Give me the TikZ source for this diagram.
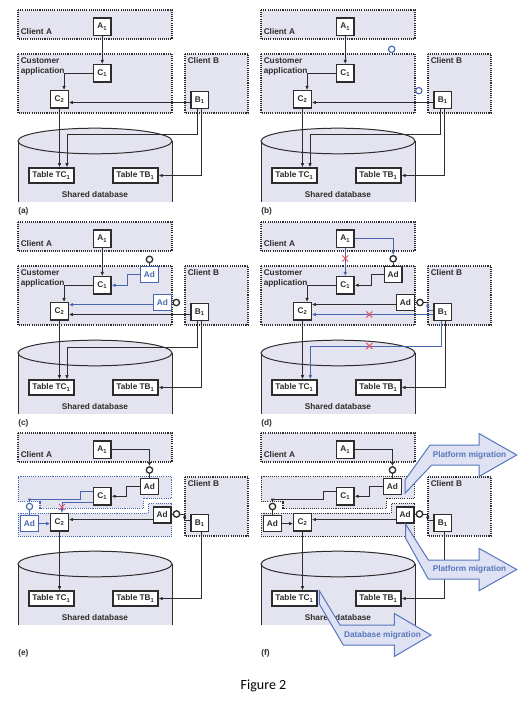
\documentclass[tikz,border=0pt]{standalone}
\usepackage{fontspec}
\setmainfont{Liberation Sans}
\newfontfamily\captionfont{Carlito}
\usetikzlibrary{arrows.meta,shapes.misc}

\definecolor{lav}{RGB}{228,228,240}
\definecolor{ink}{RGB}{45,45,45}
\definecolor{adblue}{RGB}{72,102,178}
\definecolor{xred}{RGB}{226,84,108}
\definecolor{migline}{RGB}{88,118,190}
\definecolor{migfill}{RGB}{222,226,242}

\newcommand\smallbf{\bfseries\fontsize{6.2}{7.9}\selectfont}

\tikzset{
  zone/.style={fill=lav, draw=ink, line width=0.8pt, dash pattern=on 0.8pt off 0.8pt},
  bzone/.style={zone, draw=adblue},
  box/.style={draw=ink, fill=white, line width=1pt, inner sep=0pt,
              minimum width=13.1pt, minimum height=12.9pt, font=\smallbf, text=ink},
  tbox/.style={box, minimum width=33.75pt, minimum height=11.4pt},
  adbox/.style={box, minimum height=12pt},
  bluebox/.style={draw=adblue, text=adblue},
  wire/.style={draw=ink, line width=0.75pt},
  bwire/.style={wire, draw=adblue},
  conn/.style={wire, -{Latex[length=3pt,width=2.7pt]}},
  bconn/.style={conn, draw=adblue},
  lolly/.style={circle, draw=ink, fill=white, line width=1pt, inner sep=0pt, minimum size=4.8pt},
  blolly/.style={lolly, draw=adblue, line width=0.85pt},
  xmark/.style={cross out, draw=xred, line width=0.75pt, inner sep=0pt, minimum size=3.8pt},
  lbl/.style={font=\smallbf, text=ink, inner sep=0pt},
  mig/.style={draw=migline, fill=migfill, line width=0.75pt, line join=miter},
  migtext/.style={font=\smallbf, text=migline, inner sep=0pt},
}

% client zones and the shared database cylinder
\newcommand\zonesAB{%
  \draw[zone] (18,10) rectangle (172,39);
  \node[lbl, anchor=west] (la) at (20.5,32) {Client A};
  \draw[zone] (185,54) rectangle (248,113);
  \node[lbl, anchor=west] (lb) at (187.5,60.5) {Client B};
  \fill[lav] (18,141) rectangle (172,202);
  \draw[wire] (18,141) -- (18,202) (172,141) -- (172,202);
  \draw[wire, fill=lav] (95,141) ellipse [x radius=57.75pt, y radius=9.6pt];
  \node[lbl] (ldb) at (95,195) {Shared database};
}
% the undivided customer application zone
\newcommand\custapp{%
  \draw[zone] (18,54) rectangle (172,113);
  \node[lbl, anchor=north west, align=left] (lc) at (20.5,57.3) {Customer\\application};
}
% components and tables
\newcommand\basenodes{%
  \node[box] (A1) at (102.25,26.75) {A\textsubscript{1}};
  \node[box] (C1) at (102.25,73.25) {C\textsubscript{1}};
  \node[box] (C2) at (59.5,99.25) {C\textsubscript{2}};
  \node[box] (B1) at (199.75,100) {B\textsubscript{1}};
  \node[tbox] (TC1) at (51.5,175.5) {Table TC\textsubscript{1}};
  \node[tbox] (TB1) at (135.5,175.5) {Table TB\textsubscript{1}};
}
% calls and table accesses of the original system
\newcommand\routeslower{%
  \draw[conn] (C2.south) -- (C2.south |- TC1.north);
  \coordinate (k1) at (197,135); \coordinate (k2) at (67,135);
  \draw[conn] (B1.south -| k1) -- (k1) -- (k2) -- (k2 |- TC1.north);
  \coordinate (k3) at (201.5,175.5);
  \draw[conn] (B1.south -| k3) -- (k3) -- (TB1.east);
}
\newcommand\routesbase{%
  \draw[conn] (A1) -- (C1);
  \draw[conn] (C1.west) -| ([xshift=3.4pt]C2.north);
  \coordinate (yb) at (0,102.5);
  \draw[conn] (B1.west |- yb) -- (C2.east |- yb);
  \routeslower
}
\newcommand\panellabel[2]{\node[lbl, anchor=west] (lp) at (18,#2) {(#1)};}

\begin{document}
\begin{tikzpicture}[x=0.75pt,y=-0.75pt]
\useasboundingbox (0,0) rectangle (527,706);
\fill[white] (0,0) rectangle (527,706);

% (a) original system
\begin{scope}[name prefix=a-]
  \zonesAB \custapp \basenodes \routesbase
  \panellabel{a}{211}
\end{scope}

% (b) interfaces identified
\begin{scope}[shift={(243,0)}, name prefix=b-]
  \zonesAB \custapp \basenodes \routesbase
  \node[blolly] (o1) at (148.7,49.3) {};
  \node[blolly] (o2) at (175.8,90.7) {};
  \panellabel{b}{211}
\end{scope}

% (c) adapters added
\begin{scope}[shift={(0,212)}, name prefix=c-]
  \zonesAB \custapp \basenodes \routesbase
  \node[lolly] (L1) at (149.5,47.4) {};
  \node[adbox, bluebox] (Ad1) at (149.5,62.7) {Ad};
  \node[adbox, bluebox] (Ad2) at (162.5,90.5) {Ad};
  \node[lolly] (L2) at (176.3,90.5) {};
  \draw[wire] (L1) -- (Ad1);
  \draw[wire] (Ad2) -- (L2);
  \coordinate (m) at (127,0);
  \draw[bconn] (Ad1.west) -- (Ad1.west -| m) -- (C1.east -| m) -- (C1.east);
  \coordinate (y2) at (0,92.7);
  \draw[bconn] (Ad2.west |- y2) -- (C2.east |- y2);
  \panellabel{c}{211}
\end{scope}

% (d) clients rerouted through the adapters
\begin{scope}[shift={(243,212)}, name prefix=d-]
  \zonesAB \custapp \basenodes
  \node[lolly] (L1) at (150.2,46.8) {};
  \node[adbox] (Ad1) at (150.2,62.5) {Ad};
  \node[adbox] (Ad2) at (162.5,90.5) {Ad};
  \node[lolly] (L2) at (177,90.5) {};
  \draw[wire] (L1) -- (Ad1);
  \draw[wire] (Ad2) -- (L2);
  \draw[bconn] (A1) -- (C1);
  \coordinate (p) at (150.2,0);
  \draw[bconn] (A1.east) -- (A1.east -| p) -- (L1.north);
  \coordinate (m) at (128,0);
  \draw[conn] (Ad1.west) -- (Ad1.west -| m) -- (C1.east -| m) -- (C1.east);
  \coordinate (y2) at (0,92.5);
  \draw[conn] (Ad2.west |- y2) -- (C2.east |- y2);
  \coordinate (yb) at (0,102.5);
  \draw[bconn] (B1.west |- yb) -- (C2.east |- yb);
  \coordinate (q) at (184.7,98);
  \draw[wire] (L2.east) -- (L2.east -| q);
  \draw[bconn] (B1.west |- q) -- (q) -- (q |- L2);
  \draw[conn] (C1.west) -| ([xshift=3.4pt]C2.north);
  \draw[conn] (C2.south) -- (C2.south |- TC1.north);
  \coordinate (k1) at (198,134); \coordinate (k2) at (67.3,134);
  \draw[bconn] (B1.south -| k1) -- (k1) -- (k2) -- (k2 |- TC1.north);
  \coordinate (k3) at (202.3,175.5);
  \draw[conn] (B1.south -| k3) -- (k3) -- (TB1.east);
  \node[xmark] (x1) at (102.25,46.5) {};
  \node[xmark] (x2) at (126.3,102.5) {};
  \node[xmark] (x3) at (126.3,134) {};
  \panellabel{d}{211}
\end{scope}

% (e) customer application split into two parts
\begin{scope}[shift={(0,423)}, name prefix=e-]
  \zonesAB
  \draw[bzone] (18.3,53.7) -- (171.3,53.7) -- (171.3,75.3) -- (143.3,75.3) -- (143.3,85.3)
               -- (40,85.3) -- (40,78.7) -- (18.3,78.7) -- cycle;
  \draw[bzone] (18.3,90.3) -- (148.3,90.3) -- (148.3,80.3) -- (171.7,80.3)
               -- (171.7,113.7) -- (18.3,113.7) -- cycle;
  \basenodes
  \node[lolly] (L1) at (149.5,47) {};
  \node[adbox] (Ad1) at (149.5,63.3) {Ad};
  \node[adbox] (Ad2) at (162.2,92) {Ad};
  \node[lolly] (L2) at (176.5,91) {};
  \node[adbox, bluebox] (Ad0) at (29.5,100.6) {Ad};
  \node[blolly] (L0) at (29.5,83.5) {};
  \draw[wire] (L1) -- (Ad1);
  \draw[wire] (Ad2.east |- L2) -- (L2);
  \draw[bwire] (L0) -- (Ad0);
  \coordinate (p) at (149.5,0);
  \draw[conn] (A1.east) -- (A1.east -| p) -- (L1.north);
  \coordinate (m) at (126.7,0);
  \draw[conn] (Ad1.west) -- (Ad1.west -| m) -- (C1.east -| m) -- (C1.east);
  \coordinate (u1) at (80,68.7); \coordinate (u2) at (80,76.3);
  \draw[bconn] (C1.west |- u1) -- (u1) -- (u2) -- (u2 -| L0) -- (L0.north);
  \coordinate (u3) at (62,79);
  \draw[bconn] (C1.west |- u3) -- (u3) -- (u3 |- C2.north);
  \draw[bconn] (Ad0.east) -- (Ad0.east -| C2.west);
  \coordinate (y3) at (0,96.5);
  \draw[conn] (Ad2.west |- y3) -- (C2.east |- y3);
  \coordinate (q) at (184.7,97.5);
  \draw[wire] (L2.east) -- (L2.east -| q);
  \draw[conn] (B1.west |- q) -- (q) -- (q |- L2);
  \draw[conn] (C2.south) -- (C2.south |- TC1.north);
  \coordinate (k3) at (201.5,175.5);
  \draw[conn] (B1.south -| k3) -- (k3) -- (TB1.east);
  \node[xmark] (x1) at (62,84) {};
  \panellabel{e}{230}
\end{scope}

% (f) migration of the separated parts
\begin{scope}[shift={(243,423)}, name prefix=f-]
  \zonesAB
  \draw[zone] (18.3,53.7) -- (171.3,53.7) -- (171.3,75.3) -- (143.3,75.3) -- (143.3,85.3)
              -- (40,85.3) -- (40,78.7) -- (18.3,78.7) -- cycle;
  \draw[zone] (18.3,90.3) -- (148.3,90.3) -- (148.3,80.3) -- (171.7,80.3)
              -- (171.7,113.7) -- (18.3,113.7) -- cycle;
  \basenodes
  \node[lolly] (L1) at (149.5,47) {};
  \node[adbox] (Ad1) at (149.5,63.3) {Ad};
  \node[adbox] (Ad2) at (162.2,92) {Ad};
  \node[lolly] (L2) at (176.5,91) {};
  \node[adbox] (Ad0) at (29.5,100.6) {Ad};
  \node[lolly] (L0) at (29.5,83.5) {};
  \draw[wire] (L1) -- (Ad1);
  \draw[wire] (Ad2.east |- L2) -- (L2);
  \draw[wire] (L0) -- (Ad0);
  \coordinate (p) at (149.5,0);
  \draw[conn] (A1.east) -- (A1.east -| p) -- (L1.north);
  \coordinate (m) at (126.7,0);
  \draw[conn] (Ad1.west) -- (Ad1.west -| m) -- (C1.east -| m) -- (C1.east);
  \coordinate (u1) at (80,68.7); \coordinate (u2) at (80,76.3);
  \draw[conn] (C1.west |- u1) -- (u1) -- (u2) -- (u2 -| L0) -- (L0.north);
  \draw[conn] (Ad0.east) -- (Ad0.east -| C2.west);
  \coordinate (y3) at (0,96.5);
  \draw[conn] (Ad2.west |- y3) -- (C2.east |- y3);
  \coordinate (q) at (184.7,97.5);
  \draw[wire] (L2.east) -- (L2.east -| q);
  \draw[conn] (B1.west |- q) -- (q) -- (q |- L2);
  \draw[conn] (C2.south) -- (C2.south |- TC1.north);
  \coordinate (k3) at (201.5,175.5);
  \draw[conn] (B1.south -| k3) -- (k3) -- (TB1.east);
  % migration arrows
  \draw[mig] (162,57) -- (187,22) -- (236,22) -- (236,10.5) -- (273.7,32) -- (236,53.5)
             -- (236,42) -- (188.7,42) -- (162,70.3) -- cycle;
  \node[migtext] (pm1) at (226.5,32) {Platform migration};
  \draw[mig] (162.5,101) -- (185.3,137) -- (236,137) -- (236,125.3) -- (273.7,146.5)
             -- (236,167.7) -- (236,156) -- (185.3,156) -- (162.5,115) -- cycle;
  \node[migtext] (pm2) at (226.5,146.5) {Platform migration};
  \draw[mig] (76.3,167.7) -- (97,202) -- (151.3,202) -- (151.3,190.5) -- (188,212)
             -- (151.3,233.5) -- (151.3,222) -- (100.3,222) -- (76.3,181) -- cycle;
  \node[migtext] (dm) at (139.5,212) {Database migration};
  \panellabel{f}{230}
\end{scope}

\node[font=\captionfont\fontsize{10.5}{12}\selectfont, text=black] (cap) at (263.5,686) {Figure 2};
\end{tikzpicture}
\end{document}
